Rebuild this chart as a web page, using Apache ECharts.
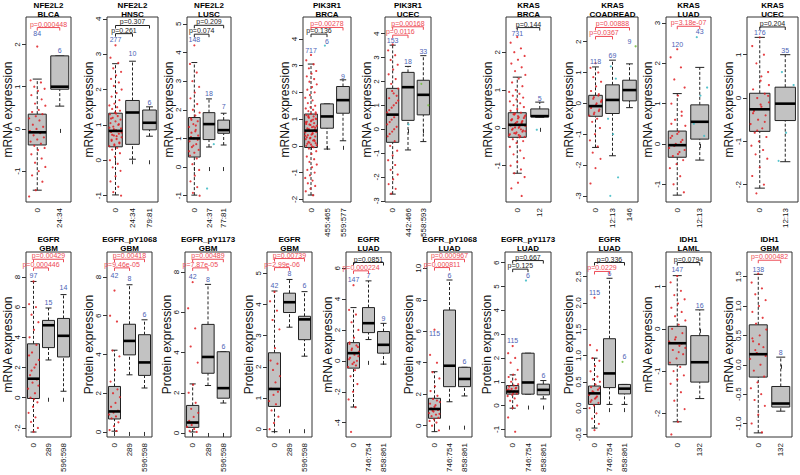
<!DOCTYPE html>
<html><head><meta charset="utf-8">
<script src="https://cdn.jsdelivr.net/npm/echarts@6/dist/echarts.min.js"></script>
<style>html,body{margin:0;padding:0;background:#fff}#c{width:800px;height:475px}</style>
</head><body><div id="c"></div>
<script>
// ---------------- DATA ----------------
const genes = ['NFE2L2','NFE2L2','NFE2L2','PIK3R1','PIK3R1','KRAS','KRAS','KRAS','KRAS',
  'EGFR','EGFR_pY1068','EGFR_pY1173','EGFR','EGFR','EGFR_pY1068','EGFR_pY1173','EGFR','IDH1','IDH1'];
const cancers = ['BLCA','HNSC','LUSC','BRCA','UCEC','BRCA','COADREAD','LUAD','UCEC',
  'GBM','GBM','GBM','GBM','LUAD','LUAD','LUAD','LUAD','LAML','GBM'];
const measures = ['mRNA','mRNA','mRNA','mRNA','mRNA','mRNA','mRNA','mRNA','mRNA',
  'mRNA','Protein','Protein','Protein','mRNA','Protein','Protein','Protein','mRNA','mRNA'];
const groups = [['0','24:34'],['0','24:34','79:81'],['0','24:37','77:81'],['0','455:465','559:577'],
  ['0','442:466','558:593'],['0','12'],['0','12:13','146'],['0','12:13'],['0','12:13'],
  ['0','289','596:598'],['0','289','596:598'],['0','289','596:598'],['0','289','596:598'],
  ['0','746:754','858:861'],['0','746:754','858:861'],['0','746:754','858:861'],['0','746:754','858:861'],
  ['0','132'],['0','132']];
const groupCounts = [[84,6],[277,10,6],[148,18,7],[717,6,9],[153,18,33],[731,5],[118,69,9],[120,43],[176,35],
  [97,15,14],[42,8,6],[42,8,6],[42,8,6],[147,7,9],[115,6,6],[115,6,6],[115,6,6],[147,16],[138,8]];
// box stats per group: [lower whisker, Q1, median, Q3, upper whisker]
const boxStats = [
  [[-1.45,-0.38,-0.08,0.35,1.18],[0.54,0.94,1.0,1.73,1.73]],
  [[-0.98,0.38,0.83,1.33,2.73],[0.03,0.45,1.35,1.69,2.8],[0.68,0.86,1.06,1.42,1.51]],
  [[-0.98,0.35,1.0,1.73,3.65],[0.7,0.96,1.5,1.9,2.38],[0.77,1.18,1.29,1.64,1.88]],
  [[-1.84,-0.06,0.57,1.19,3.06],[-0.12,0.66,1.1,1.57,1.57],[0.19,1.22,1.71,2.22,2.47]],
  [[-2.72,-0.55,0.61,1.71,3.52],[-0.87,0.37,1.76,2.38,2.63],[-0.52,0.6,1.44,2.05,3.08]],
  [[-1.2,-0.25,0.08,0.4,1.34],[0.28,0.29,0.31,0.5,0.68]],
  [[-1.43,-0.42,-0.09,0.26,1.18],[-1.7,-0.33,0.11,0.6,1.4],[-0.14,0.08,0.43,0.75,1.28]],
  [[-1.27,-0.33,-0.03,0.32,1.25],[-0.4,0.12,0.55,0.97,1.9]],
  [[-2.08,-0.77,-0.26,0.11,1.4],[-1.47,-0.52,-0.13,0.25,1.0]],
  [[-2.27,-0.05,1.26,3.57,7.7],[2.5,3.32,4.8,5.12,5.94],[0.43,2.7,4.1,5.25,6.83]],
  [[0.04,0.67,1.06,2.35,4.22],[2.95,3.98,4.7,5.56,7.6],[2.27,2.92,3.59,5.02,5.79]],
  [[0.05,0.28,0.52,1.37,2.44],[2.36,2.97,3.78,5.4,7.39],[1.49,1.73,2.23,4.04,4.04]],
  [[-0.08,0.73,1.29,2.45,4.43],[3.27,3.74,4.07,4.36,4.8],[2.34,2.87,3.52,3.62,4.41]],
  [[-2.99,-0.47,0.5,1.18,3.45],[1.38,1.83,2.44,3.45,5.18],[-0.21,0.5,1.04,1.9,2.43]],
  [[-0.38,0.47,1.06,1.74,3.43],[1.52,2.48,3.81,7.35,9.26],[1.89,2.48,2.97,3.71,3.71]],
  [[-0.11,0.48,0.59,0.84,1.29],[0.48,0.48,0.97,2.2,2.2],[0.28,0.45,0.66,0.9,1.05]],
  [[-0.38,0.07,0.28,0.42,0.95],[0.07,0.39,0.66,1.32,2.47],[0.07,0.27,0.37,0.45,0.45]],
  [[-2.2,-0.85,-0.34,0.06,1.26],[-1.65,-1.26,-0.79,-0.16,0.45]],
  [[-1.16,-0.21,0.18,0.68,1.54],[-0.79,-0.72,-0.66,-0.37,0.13]]
];
// vertical position (value) of the group-size labels
const countY = [[2.27,1.85],[3.4,3.02,1.63],[4.45,2.58,2.1],[3.57,3.9,2.6],[3.7,2.85,3.25],[2.5,0.78],
  [1.36,1.55,2.0],[2.48,2.8],[1.52,1.1],[8.1,6.3,7.3],[8.07,7.9,6.05],[7.8,7.64,4.29],[4.6,5.0,4.6],
  [5.24,5.52,2.75],[5.85,9.57,4.07],[2.75,5.45,1.26],[2.2,2.56,0.98],[1.4,0.55],[1.62,0.21]];
// p-value comparisons against group 0: [other group, p text, bracket level]
const pValues = [
  [[1,'0.000448',2.4]],
  [[1,'0.261',3.58],[2,'0.307',3.81]],
  [[1,'0.074',4.64],[2,'0.209',4.95]],
  [[1,'0.136',4.18],[2,'0.00278',4.43]],
  [[1,'0.0116',3.94],[2,'0.00168',4.29]],
  [[1,'0.144',2.65]],
  [[1,'0.0367',2.17],[2,'0.00888',2.46]],
  [[1,'3.18e-07',2.92]],
  [[1,'0.204',1.64]],
  [[1,'0.000446',8.6],[2,'0.00429',9.17]],
  [[1,'9.46e-05',8.47],[2,'0.00418',8.92]],
  [[1,'7.87e-05',8.21],[2,'0.00489',8.64]],
  [[1,'2.99e-06',5.18],[2,'0.00739',5.47]],
  [[1,'0.000224',5.83],[2,'0.0851',6.37]],
  [[1,'0.000811',10.05],[2,'0.000967',10.58]],
  [[1,'0.125',5.73],[2,'0.667',6.09]],
  [[1,'0.0229',2.6],[2,'0.336',2.77]],
  [[1,'0.0794',1.57]],
  [[1,'0.000482',1.78]]
];
const yMin = [-1.73,-1.18,-1.22,-2.1,-3.05,-1.96,-3.2,-1.44,-2.4,-2.6,-0.26,-0.2,-0.25,-4.93,-0.72,-1.32,-0.55,-2.56,-1.23];
const yMax = [2.65,4.05,5.24,4.82,4.7,2.93,2.8,3.15,1.87,9.65,9.29,9.0,5.68,7.05,11.04,6.45,2.97,1.82,1.92];
const yTicks = [[-1,0,1,2],[-1,0,1,2,3,4],[-1,0,1,2,3,4,5],[-2,-1,0,1,2,3,4],[-3,-2,-1,0,1,2,3,4],
  [-1,0,1,2],[-3,-2,-1,0,1,2],[-1,0,1,2,3],[-2,-1,0,1],[-2,0,2,4,6,8],[0,2,4,6,8],[0,2,4,6,8],
  [0,1,2,3,4,5],[-4,-2,0,2,4,6],[0,2,4,6,8,10],[-1,0,1,2,3,4,5,6],[-0.5,0,0.5,1,1.5,2,2.5],
  [-2,-1,0,1],[-1,-0.5,0,0.5,1,1.5]];
const tickDecimals = [0,0,0,0,0,0,0,0,0,0,0,0,0,0,0,0,1,0,1];
// individual samples of group 0 (estimated)
const redDots = [
  [1.95,1.15,1.1,1.0,0.95,0.9,0.8,0.7,0.6,0.55,0.45,0.4,0.35,0.3,0.25,0.2,0.1,0.05,0.0,-0.05,-0.1,-0.15,-0.2,-0.25,-0.3,-0.35,-0.4,-0.45,-0.5,-0.6,-0.7,-0.8,-0.9,-1.0,-1.1,-1.25,-1.45,-1.6],
  [3.25,2.9,2.75,2.6,2.5,2.4,2.3,2.2,2.1,2.0,1.9,1.8,1.7,1.6,1.55,1.5,1.45,1.4,1.35,1.3,1.25,1.2,1.15,1.1,1.05,1.0,0.95,0.9,0.85,0.8,0.75,0.7,0.65,0.6,0.55,0.5,0.45,0.4,0.35,0.3,0.2,0.1,0.0,-0.1,-0.2,-0.3,-0.45,-0.6,-0.75,-0.9,-1.0,1.32,1.18,1.02,0.88,0.78,0.68,0.58,0.48,0.42,0.92,0.82,0.72],
  [4.25,3.6,3.3,3.0,2.8,2.6,2.4,2.2,2.0,1.9,1.8,1.7,1.6,1.5,1.4,1.3,1.2,1.1,1.0,0.9,0.8,0.7,0.6,0.5,0.4,0.3,0.1,-0.1,-0.3,-0.5,-0.7,-0.9,-1.0,1.25,1.05,0.95,0.75,0.55,1.45,1.65],
  [3.4,3.2,3.05,2.9,2.8,2.7,2.6,2.5,2.4,2.3,2.2,2.1,2.0,1.9,1.8,1.7,1.6,1.5,1.45,1.4,1.35,1.3,1.25,1.2,1.15,1.1,1.05,1.0,0.95,0.9,0.85,0.8,0.75,0.7,0.65,0.6,0.55,0.5,0.45,0.4,0.35,0.3,0.25,0.2,0.15,0.1,0.05,0.0,-0.05,-0.1,-0.2,-0.3,-0.4,-0.5,-0.6,-0.7,-0.8,-0.9,-1.0,-1.1,-1.2,-1.3,-1.4,-1.5,-1.6,-1.7,-1.85,1.12,1.02,0.92,0.82,0.72,0.62,0.52,0.42,0.32,0.22,0.12,0.02,-0.02,0.08,0.18,0.28,0.38,0.48,0.58,0.68,0.78,0.88,0.98,1.08,1.18],
  [3.55,3.3,3.1,2.9,2.7,2.5,2.3,2.1,1.9,1.7,1.5,1.3,1.1,0.9,0.7,0.5,0.3,0.1,-0.1,-0.3,-0.5,-0.7,-0.9,-1.1,-1.3,-1.5,-1.7,-1.9,-2.1,-2.3,-2.5,-2.7,1.2,1.0,0.8,0.6,0.4,0.2,0.0,-0.2,1.4,1.6],
  [2.4,2.25,2.1,2.0,1.9,1.8,1.7,1.6,1.5,1.4,1.3,1.2,1.1,1.0,0.95,0.9,0.85,0.8,0.75,0.7,0.65,0.6,0.55,0.5,0.45,0.4,0.35,0.3,0.25,0.2,0.15,0.1,0.05,0.0,-0.05,-0.1,-0.15,-0.2,-0.25,-0.3,-0.35,-0.4,-0.5,-0.6,-0.7,-0.8,-0.9,-1.0,-1.1,-1.2,-1.3,-1.45,-1.6,-1.8,0.38,0.33,0.28,0.23,0.18,0.13,0.08,0.03,-0.02,-0.07,-0.12,-0.17,-0.22,0.36,0.26,0.16,0.06,-0.04,-0.14,-0.24,0.31,0.21,0.11,0.01,-0.09,-0.19],
  [1.3,1.15,1.0,0.85,0.7,0.55,0.4,0.3,0.2,0.1,0.0,-0.1,-0.2,-0.3,-0.4,-0.5,-0.6,-0.8,-1.0,-1.2,-1.4,-1.6,-1.8,-2.1,-2.6,0.25,0.15,0.05,-0.05,-0.15,-0.25,-0.35],
  [2.35,2.15,1.9,1.6,1.4,1.2,1.0,0.8,0.6,0.45,0.3,0.2,0.1,0.0,-0.1,-0.2,-0.3,-0.4,-0.5,-0.6,-0.8,-1.0,-1.2,0.25,0.15,0.05,-0.05,-0.15,-0.25,0.5,0.7],
  [1.4,1.2,1.0,0.8,0.6,0.4,0.2,0.1,0.0,-0.1,-0.2,-0.3,-0.4,-0.5,-0.6,-0.7,-0.8,-0.9,-1.0,-1.1,-1.2,-1.3,-1.4,-1.6,-1.8,-2.0,-2.2,0.05,-0.15,-0.35,-0.55,-0.75,0.3,0.5],
  [7.7,6.2,6.0,5.5,5.0,4.5,4.0,3.5,3.0,2.5,2.0,1.5,1.2,1.0,0.6,0.3,0.0,-0.3,-0.6,-1.0,-1.3,-1.6,-2.0,-2.25,2.8,2.2,1.8,0.8,-0.1],
  [7.3,6.0,5.7,4.2,3.9,3.2,2.6,2.2,2.0,1.8,1.5,1.3,1.1,1.0,0.9,0.8,0.7,0.5,0.3,0.1,0.05],
  [7.5,6.2,5.2,4.3,3.5,2.4,2.0,1.5,1.2,1.0,0.8,0.6,0.5,0.4,0.3,0.2,0.1,0.05],
  [4.4,4.1,3.8,3.5,3.2,2.6,2.2,2.1,1.9,1.7,1.5,1.3,1.2,1.1,0.9,0.8,0.6,0.4,0.2,0.0],
  [4.9,3.3,3.0,2.5,2.0,1.5,1.2,1.0,0.8,0.6,0.4,0.2,0.0,-0.2,-0.4,-0.6,-1.0,-1.5,-2.0,-2.5,-3.0,-4.6,0.9,0.5,0.1,-0.3,0.7,0.3,-0.1,1.1],
  [6.1,4.5,4.0,3.4,3.0,2.5,2.2,1.9,1.7,1.5,1.3,1.1,1.0,0.9,0.8,0.7,0.6,0.5,0.4,0.3,0.2,0.0,-0.3,1.2,1.4,1.6,0.95,0.75],
  [2.5,2.2,2.0,1.8,1.5,1.3,1.2,1.1,1.0,0.9,0.85,0.8,0.75,0.7,0.65,0.6,0.55,0.5,0.45,0.4,0.3,0.2,0.0,-0.1,-0.5,-1.1,0.62,0.58,0.52,0.68,0.72],
  [2.1,1.2,1.1,0.95,0.9,0.8,0.7,0.6,0.55,0.5,0.45,0.4,0.35,0.3,0.25,0.2,0.15,0.1,0.05,0.0,-0.1,-0.2,-0.3,-0.42,0.28,0.22,0.32,0.38,0.18,0.12],
  [1.25,1.1,0.9,0.8,0.7,0.6,0.5,0.4,0.3,0.2,0.1,0.0,-0.1,-0.2,-0.3,-0.4,-0.5,-0.6,-0.7,-0.8,-0.9,-1.0,-1.1,-1.2,-1.3,-1.5,-1.7,-1.9,-2.2,-2.5,-0.35,-0.25,-0.45,-0.55],
  [1.55,1.4,1.3,1.2,1.1,1.0,0.9,0.8,0.7,0.6,0.5,0.4,0.3,0.2,0.1,0.0,-0.1,-0.2,-0.3,-0.4,-0.5,-0.6,-0.7,-0.85,-1.0,-1.15,0.25,0.15,0.35,0.45]
];
// visible samples of the other groups: [panel, group, value]
const otherDots = [[2,1,-0.75],[2,1,0.8],[3,1,3.75],[5,1,-0.05],[6,1,-3.0],[6,1,-2.4],[6,1,-1.0],[6,1,-0.5],
  [6,1,0.8],[6,1,1.2],[6,2,1.85],[7,1,2.65],[7,1,1.4],[7,1,1.2],[7,1,0.5],[7,1,0.2],[8,1,0.6],[8,1,0.3],
  [8,1,-0.8],[8,1,-1.45],[15,1,5.25],[16,2,0.88],[4,2,1.9],[4,2,1.0],[4,1,0.2]];

// ---------------- LAYOUT / STYLE ----------------
const panelLeft  = [26,107,187,303,385,506,587,666,747, 26,107,185,267,346,427,505,587,666,747];
const panelWidth = [45,51,44,48,46,45,51,45,51, 45,45,46,45,45,45,46,45,45,45];
const FONT = '"Liberation Sans", Arial, sans-serif';
const RED = '#ee4a55', BLUE = '#4c63b6';
const dotColors = ['rgba(225,30,35,0.85)','rgba(70,190,200,0.9)','rgba(120,190,70,0.9)'];

const grids=[], xAxes=[], yAxes=[], series=[], graphics=[];
for (let i=0;i<genes.length;i++){
  const top = i<9 ? 17 : 252;
  grids.push({left:panelLeft[i], top:top, width:panelWidth[i], height:185, show:true,
    borderColor:'#333', borderWidth:1, outerBoundsMode:'none'});
  xAxes.push({type:'category', gridIndex:i, data:groups[i], boundaryGap:true,
    axisLine:{show:false}, splitLine:{show:false},
    axisTick:{show:true, alignWithLabel:true, length:4, lineStyle:{color:'#333'}},
    axisLabel:{interval:0, rotate:90, fontSize:8, margin:6, color:'#111', fontFamily:FONT}});
  const dec = tickDecimals[i];
  yAxes.push({type:'value', gridIndex:i, min:yMin[i], max:yMax[i],
    axisLine:{show:false}, splitLine:{show:false},
    axisTick:{show:true, length:4, customValues:yTicks[i], lineStyle:{color:'#333'}},
    axisLabel:{customValues:yTicks[i], rotate:90, fontSize:8, margin:5, color:'#111', fontFamily:FONT,
      formatter:v=>Number(v).toFixed(dec)}});
  // panel title
  graphics.push({type:'text', x:panelLeft[i]+panelWidth[i]/2, y: i<9 ? 0.5 : 234.5,
    style:{text:genes[i]+'\n'+cancers[i], textAlign:'center', align:'center', verticalAlign:'top', textVerticalAlign:'top',
      font:'bold 8px '+FONT, lineHeight:9, fill:'#000'}});
  // y-axis title
  graphics.push({type:'text', x:panelLeft[i]-18.5, y:top+92.5, rotation:Math.PI/2,
    style:{text:measures[i]+' expression', textAlign:'center', align:'center', verticalAlign:'middle', textVerticalAlign:'middle',
      font:'12px '+FONT, fill:'#111'}});

  // boxes + whiskers
  series.push({type:'custom', xAxisIndex:i, yAxisIndex:i, z:2, silent:true,
    encode:{x:0, y:[1,2,3,4,5]},
    data:boxStats[i].map((s,g)=>[g].concat(s)),
    renderItem:(params, api)=>{
      const g = api.value(0);
      const slot = api.size([1,0])[0], bw = slot*0.8;
      const x = api.coord([g, api.value(3)])[0];
      const yl = api.coord([g, api.value(1)])[1], y1 = api.coord([g, api.value(2)])[1];
      const y3 = api.coord([g, api.value(4)])[1], yh = api.coord([g, api.value(5)])[1];
      const dash = {stroke:'#222', lineWidth:1, lineDash:[3,2], fill:null};
      const solid = {stroke:'#222', lineWidth:1, fill:null};
      return {type:'group', children:[
        {type:'line', shape:{x1:x,y1:yl,x2:x,y2:y1}, style:dash},
        {type:'line', shape:{x1:x,y1:y3,x2:x,y2:yh}, style:dash},
        {type:'line', shape:{x1:x-bw/4,y1:yl,x2:x+bw/4,y2:yl}, style:solid},
        {type:'line', shape:{x1:x-bw/4,y1:yh,x2:x+bw/4,y2:yh}, style:solid},
        {type:'rect', shape:{x:x-bw/2,y:y3,width:bw,height:y1-y3}, style:{fill:'#c2c2c2', stroke:'#222', lineWidth:1}}
      ]};
    }});
  // sample dots
  const dd = redDots[i].map((v,k)=>[0,v,k]);
  otherDots.filter(d=>d[0]===i).forEach((d,k)=>dd.push([d[1],d[2],k+3]));
  series.push({type:'custom', xAxisIndex:i, yAxisIndex:i, z:3, silent:true,
    encode:{x:0, y:1}, data:dd,
    renderItem:(params, api)=>{
      const g = api.value(0), k = api.value(2);
      const slot = api.size([1,0])[0];
      const p = api.coord([g, api.value(1)]);
      const jit = (((k*37+11)%23)/22 - 0.5) * slot * 0.72;
      return {type:'circle', shape:{cx:p[0]+jit, cy:p[1], r:1.1}, style:{fill:dotColors[g], stroke:null}};
    }});
  // medians
  series.push({type:'custom', xAxisIndex:i, yAxisIndex:i, z:4, silent:true,
    encode:{x:0, y:1}, data:boxStats[i].map((s,g)=>[g, s[2]]),
    renderItem:(params, api)=>{
      const g = api.value(0);
      const bw = api.size([1,0])[0]*0.8;
      const p = api.coord([g, api.value(1)]);
      return {type:'line', shape:{x1:p[0]-bw/2, y1:p[1], x2:p[0]+bw/2, y2:p[1]}, style:{stroke:'#000', lineWidth:2.6}};
    }});
  // group sizes
  series.push({type:'custom', xAxisIndex:i, yAxisIndex:i, z:5, silent:true,
    encode:{x:0, y:1}, data:countY[i].map((y,g)=>[g, y]),
    renderItem:(params, api)=>{
      const p = api.coord([api.value(0), api.value(1)]);
      return {type:'text', x:p[0], y:p[1], style:{text:String(groupCounts[i][params.dataIndex]),
        textAlign:'center', align:'center', verticalAlign:'middle', textVerticalAlign:'middle',
        font:'7px '+FONT, fill:BLUE}};
    }});
  // p-value brackets
  series.push({type:'custom', xAxisIndex:i, yAxisIndex:i, z:5, silent:true,
    encode:{x:0, y:1}, data:pValues[i].map(p=>[0, p[2], p[0]]),
    renderItem:(params, api)=>{
      const a = api.coord([api.value(0), api.value(1)]);
      const b = api.coord([api.value(2), api.value(1)]);
      const col = parseFloat(pValues[i][params.dataIndex][1]) < 0.05 ? RED : '#222';
      return {type:'polyline', shape:{points:[[a[0],a[1]+3],[a[0],a[1]],[b[0],b[1]],[b[0],b[1]+3]]},
          style:{stroke:col, lineWidth:1, fill:null}};
    }});
  // p-value texts
  series.push({type:'custom', xAxisIndex:i, yAxisIndex:i, z:5, silent:true,
    encode:{x:0, y:1}, data:pValues[i].map(p=>[0, p[2], p[0]]),
    renderItem:(params, api)=>{
      const a = api.coord([api.value(0), api.value(1)]);
      const b = api.coord([api.value(2), api.value(1)]);
      const txt = pValues[i][params.dataIndex][1];
      const col = parseFloat(txt) < 0.05 ? RED : '#222';
      return {type:'text', x:(a[0]+b[0])/2, y:a[1]-3.5, style:{text:'p='+txt, textAlign:'center', align:'center',
          verticalAlign:'middle', textVerticalAlign:'middle', font:'7px '+FONT, fill:col}};
    }});
}

const chart = echarts.init(document.getElementById('c'), null, {renderer:'svg', width:800, height:475});
chart.setOption({animation:false, backgroundColor:'#fff', grid:grids, xAxis:xAxes, yAxis:yAxes,
  series:series, graphic:graphics});
</script></body></html>
